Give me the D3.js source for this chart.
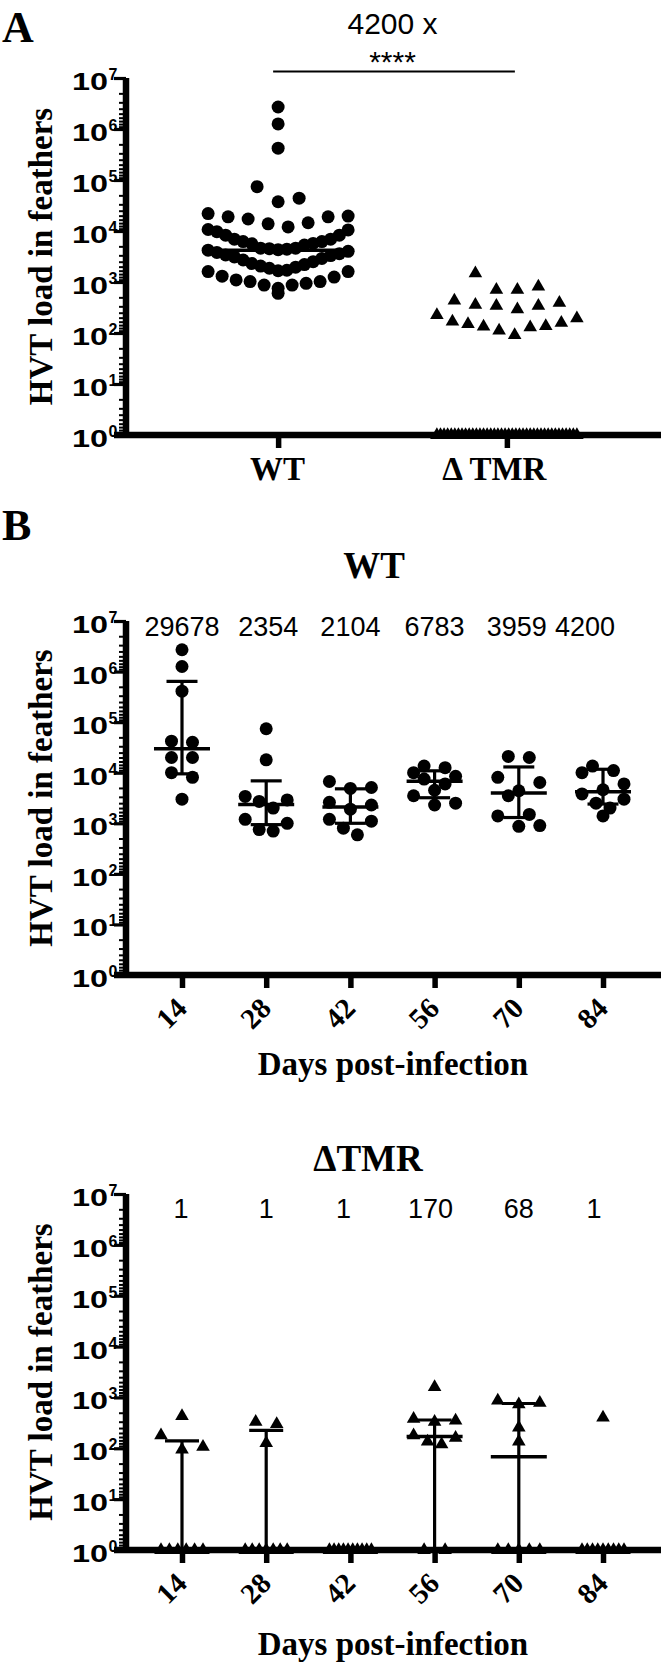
<!DOCTYPE html>
<html><head><meta charset="utf-8">
<script src="https://cdn.jsdelivr.net/npm/d3@7"></script>
<style>body{margin:0;background:#fff}svg{display:block}</style>
</head><body>
<svg id="c" width="661" height="1664"></svg>
<script>
// ---------------- DATA ----------------
const groupsA = ["WT", "Δ TMR"];
const wtA = [2700000, 1260000, 420000, 74000, 44000, 37500, 22000, 19600, 17200, 13800, 19000, 14500, 19000, 10700, 12000,
  10500, 8300, 6900, 6200, 5700, 5300, 5600, 6200, 6900, 8300, 9700,
  4600, 4600, 4500, 4400, 4300, 4200, 4000, 3800, 3600, 3400,
  3300, 3100, 2900, 2700, 2500, 2300, 2200, 2050, 1950, 1860, 1700, 1660,
  1600, 1600, 1300, 1250, 1100, 1020, 1020, 940, 870, 870, 750, 600];
const tmrA = [1480, 810, 700, 700, 430, 390, 355, 340, 340, 290, 225, 194, 167, 159, 150, 137, 133, 129, 111, 91,
  0, 0, 0, 0, 0, 0, 0, 0, 0, 0, 0, 0, 0, 0, 0, 0, 0, 0, 0, 0,
  0, 0, 0, 0, 0, 0, 0, 0, 0, 0, 0, 0, 0, 0, 0, 0, 0, 0, 0, 0];
const mediansA = [4200, 1];
const foldLabel = "4200 x";
const sigLabel = "****";

const days = ["14", "28", "42", "56", "70", "84"];
const wtDay14 = [2700000, 1260000, 410000, 42000, 40000, 20000, 20000, 10000, 8100, 3000];
const wtDay28 = [74000, 18000, 3400, 2900, 2700, 2000, 1200, 1000, 750, 700];
const wtDay42 = [6700, 5100, 4900, 2600, 2300, 1900, 1200, 1100, 800, 590];
const wtDay56 = [13500, 12600, 10000, 8500, 7500, 6000, 4500, 3500, 2500, 2300];
const wtDay70 = [21000, 20000, 8100, 6400, 4400, 3500, 1500, 1400, 900, 870];
const wtDay84 = [13500, 11000, 10000, 6000, 4600, 3800, 3000, 2500, 2000, 1400];
const wtMedians = [29678, 2354, 2104, 6783, 3959, 4200];
const wtQ1 = [9500, 940, 1000, 3200, 1300, 2400];
const wtQ3 = [640000, 6900, 4800, 10900, 13000, 11700];
const wtMedianLabels = ["29678", "2354", "2104", "6783", "3959", "4200"];

const tmrDay14 = [430, 180, 107, 94, 0, 0, 0, 0, 0, 0];
const tmrDay28 = [330, 300, 126, 0, 0, 0, 0, 0, 0, 0];
const tmrDay42 = [0, 0, 0, 0, 0, 0, 0, 0, 0, 0];
const tmrDay56 = [1600, 380, 350, 330, 180, 160, 135, 120, 0, 0];
const tmrDay70 = [870, 780, 730, 255, 135, 0, 0, 0, 0, 0];
const tmrDay84 = [400, 0, 0, 0, 0, 0, 0, 0, 0, 0];
const tmrMedians = [1, 1, 1, 170, 68, 1];
const tmrQ1 = [1, 1, 1, 1, 1, 1];
const tmrQ3 = [140, 225, 1, 360, 760, 1];
const tmrMedianLabels = ["1", "1", "1", "170", "68", "1"];

const exponents = [0, 1, 2, 3, 4, 5, 6, 7];
const yTitle = "HVT load in feathers";
const xTitle = "Days post-infection";

// ---------------- STYLE ----------------
const SERIF = "'Liberation Serif','Times New Roman',serif";
const SANS = "'Liberation Sans',Arial,sans-serif";
const AXX = 126, XR = [126, 659];
const svg = d3.select("#c");

function swarm(vals, cx, y, top, binH, step, maxW) {
  const pts = vals.map(v => ({ v, py: y(Math.max(v, 1)) }));
  const bins = d3.group(pts, p => Math.floor((p.py - top) / binH));
  for (const [, arr] of bins) {
    arr.sort((a, b) => a.v - b.v);
    const n = arr.length;
    const s = n > 1 ? Math.min(step, maxW / (n - 1)) : 0;
    arr.forEach((p, i) => {
      let off;
      if (n % 2 === 1) { const k = Math.ceil(i / 2); off = i === 0 ? 0 : (i % 2 === 1 ? k : -k); }
      else { const k = Math.floor(i / 2); off = i % 2 === 0 ? k + 0.5 : -(k + 0.5); }
      p.px = cx + off * s;
    });
  }
  return pts;
}

const circlePath = d3.symbol(d3.symbolCircle, Math.PI * 6.5 * 6.5)();
const triPath = d3.symbol(d3.symbolTriangle, 80)();

function panel(cfg) {
  const g = svg.append("g");
  const y = d3.scaleLog().domain([1, 1e7]).range([cfg.bot, cfg.top]).clamp(true);
  const x = d3.scalePoint().domain(cfg.cats).range(XR).padding(0.665);

  // minor ticks
  const minor = [];
  exponents.slice(0, 7).forEach(k => { for (let m = 2; m <= 9; m++) minor.push(Math.pow(10, k + 1) / m); });
  const gMin = g.append("g").attr("transform", `translate(${AXX},0)`)
    .call(d3.axisLeft(y).tickValues(minor).tickSize(7).tickFormat("").tickSizeOuter(0));
  gMin.select(".domain").remove();
  gMin.selectAll(".tick line").attr("stroke", "#000").attr("stroke-width", 2);

  // major ticks
  const gMaj = g.append("g").attr("transform", `translate(${AXX},0)`)
    .call(d3.axisLeft(y).tickValues(exponents.map(k => Math.pow(10, k))).tickSize(12).tickFormat("").tickSizeOuter(0));
  gMaj.select(".domain").remove();
  gMaj.selectAll(".tick line").attr("stroke", "#000").attr("stroke-width", 3.2);
  exponents.forEach(k => {
    const ty = y(Math.pow(10, k));
    g.append("text").attr("x", AXX - 18).attr("y", ty + 12).attr("text-anchor", "end")
      .attr("font-family", SANS).attr("font-weight", "bold").attr("font-size", 24)
      .attr("textLength", 36).attr("lengthAdjust", "spacingAndGlyphs").text("10");
    g.append("text").attr("x", AXX - 17.5).attr("y", ty + 2).attr("text-anchor", "start")
      .attr("font-family", SANS).attr("font-weight", "bold").attr("font-size", 16).text(String(k));
  });

  // x ticks
  const gx = g.append("g").attr("transform", `translate(0,${cfg.bot})`)
    .call(d3.axisBottom(x).tickSize(13).tickSizeOuter(0));
  gx.select(".domain").remove();
  gx.selectAll(".tick line").attr("stroke", "#000").attr("stroke-width", 5.5);
  cfg.styleXLabels(gx.selectAll(".tick text"));

  // axis lines
  g.append("line").attr("x1", AXX).attr("x2", AXX).attr("y1", cfg.top).attr("y2", cfg.bot + 3)
    .attr("stroke", "#000").attr("stroke-width", 6.5);
  g.append("line").attr("x1", AXX - 12).attr("x2", 661).attr("y1", cfg.bot).attr("y2", cfg.bot)
    .attr("stroke", "#000").attr("stroke-width", 6.5);

  // points
  cfg.series.forEach((vals, i) => {
    const pts = swarm(vals, x(cfg.cats[i]), y, cfg.top, 21.5, 21, cfg.maxW);
    g.append("g").selectAll("path").data(pts).join("path")
      .attr("transform", d => `translate(${d.px},${d.py})`)
      .attr("fill", "#000")
      .attr("d", cfg.shapes[i] === "circle" ? circlePath : triPath);
  });

  // error bars and medians
  cfg.cats.forEach((c, i) => {
    const cx = x(c);
    if (cfg.q3 && cfg.q3[i] > cfg.q1[i]) {
      g.append("line").attr("x1", cx).attr("x2", cx).attr("y1", y(cfg.q1[i])).attr("y2", y(cfg.q3[i]))
        .attr("stroke", "#000").attr("stroke-width", 3.2);
      [cfg.q1[i], cfg.q3[i]].forEach(q => {
        g.append("line").attr("x1", cx - cfg.capW / 2).attr("x2", cx + cfg.capW / 2)
          .attr("y1", y(q)).attr("y2", y(q)).attr("stroke", "#000").attr("stroke-width", 3.2);
      });
    }
    g.append("line").attr("x1", cx - cfg.medW / 2).attr("x2", cx + cfg.medW / 2)
      .attr("y1", y(cfg.medians[i])).attr("y2", y(cfg.medians[i])).attr("stroke", "#000").attr("stroke-width", 3.4);
  });

  // y title
  g.append("text").attr("transform", `translate(52,${(cfg.top + cfg.bot) / 2}) rotate(-90)`)
    .attr("text-anchor", "middle").attr("font-family", SERIF).attr("font-weight", "bold")
    .attr("font-size", 33).text(yTitle);
  return { g, x, y };
}

// ---------------- PANEL A ----------------
const A = panel({
  top: 78, bot: 435, cats: groupsA, series: [wtA, tmrA], shapes: ["circle", "triangle"], maxW: 140,
  medians: mediansA, medW: 152, capW: 0,
  styleXLabels: t => t.attr("font-family", SERIF).attr("font-weight", "bold").attr("font-size", 33)
    .attr("fill", "#000").attr("y", 45).attr("dy", 0).attr("dx", (d, i) => i === 1 ? -13 : -1)
});
svg.append("text").attr("x", 2).attr("y", 42).attr("font-family", SERIF).attr("font-weight", "bold")
  .attr("font-size", 44).text("A");
const midA = (A.x(groupsA[0]) + A.x(groupsA[1])) / 2;
svg.append("text").attr("x", midA).attr("y", 34).attr("text-anchor", "middle").attr("font-family", SANS)
  .attr("font-size", 30).text(foldLabel);
svg.append("text").attr("x", midA).attr("y", 72).attr("text-anchor", "middle").attr("font-family", SANS)
  .attr("font-size", 30).text(sigLabel);
svg.append("line").attr("x1", A.x(groupsA[0]) - 5).attr("x2", A.x(groupsA[1]) + 8).attr("y1", 71.5).attr("y2", 71.5)
  .attr("stroke", "#000").attr("stroke-width", 2);

// ---------------- PANEL B ----------------
svg.append("text").attr("x", 2).attr("y", 540).attr("font-family", SERIF).attr("font-weight", "bold")
  .attr("font-size", 44).text("B");

const rotLabels = t => t.attr("font-family", SERIF).attr("font-weight", "bold").attr("font-size", 29)
  .attr("fill", "#000").attr("x", 0).attr("y", 0).attr("dy", 0).attr("text-anchor", "end")
  .attr("transform", "translate(6,35) rotate(-45)");

const W = panel({
  top: 621, bot: 975, cats: days, shapes: days.map(() => "circle"), maxW: 42,
  series: [wtDay14, wtDay28, wtDay42, wtDay56, wtDay70, wtDay84],
  medians: wtMedians, q1: wtQ1, q3: wtQ3, medW: 56, capW: 31, styleXLabels: rotLabels
});
const wtShift = [0, 2, 0, 0, -2, -18];
days.forEach((d, i) => svg.append("text").attr("x", W.x(d) + wtShift[i]).attr("y", 636)
  .attr("text-anchor", "middle").attr("font-family", SANS).attr("font-size", 27).text(wtMedianLabels[i]));
svg.append("text").attr("x", 374).attr("y", 578).attr("text-anchor", "middle").attr("font-family", SERIF)
  .attr("font-weight", "bold").attr("font-size", 37).text("WT");
svg.append("text").attr("x", 393).attr("y", 1075).attr("text-anchor", "middle").attr("font-family", SERIF)
  .attr("font-weight", "bold").attr("font-size", 33).text(xTitle);

const T = panel({
  top: 1194, bot: 1550, cats: days, shapes: days.map(() => "triangle"), maxW: 42,
  series: [tmrDay14, tmrDay28, tmrDay42, tmrDay56, tmrDay70, tmrDay84],
  medians: tmrMedians, q1: tmrQ1, q3: tmrQ3, medW: 56, capW: 34, styleXLabels: rotLabels
});
const tmrShift = [-1, 0, -7, -4, 0, -9];
days.forEach((d, i) => svg.append("text").attr("x", T.x(d) + tmrShift[i]).attr("y", 1218)
  .attr("text-anchor", "middle").attr("font-family", SANS).attr("font-size", 27).text(tmrMedianLabels[i]));
svg.append("text").attr("x", 368).attr("y", 1171).attr("text-anchor", "middle").attr("font-family", SERIF)
  .attr("font-weight", "bold").attr("font-size", 37).text("ΔTMR");
svg.append("text").attr("x", 393).attr("y", 1655).attr("text-anchor", "middle").attr("font-family", SERIF)
  .attr("font-weight", "bold").attr("font-size", 33).text(xTitle);
</script>
</body></html>
